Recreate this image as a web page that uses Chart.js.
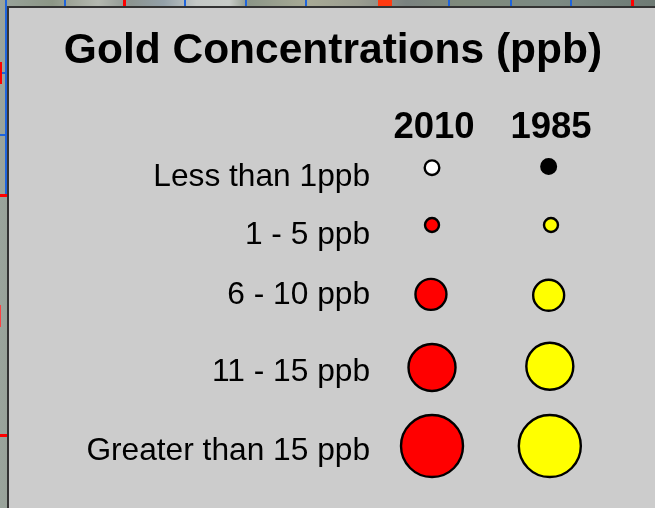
<!DOCTYPE html>
<html>
<head>
<meta charset="utf-8">
<title>Gold Concentrations (ppb)</title>
<script src="https://cdn.jsdelivr.net/npm/chart.js@4"></script>
<style>
    html, body { margin: 0; padding: 0; width: 655px; height: 508px; overflow: hidden; }
    /* map peeking out behind the legend box */
    #map { position: absolute; left: 0; top: 0; width: 655px; height: 508px;
        background: linear-gradient(90deg, #9aa49c 0, #8c9686 8%, #a0a69a 11%, #b4b8b0 15%, #8c9490 20%, #93a0a8 25%, #c4c8c6 30%, #c8ccc8 35%, #8c9688 38%, #a8aa96 47%, #9a9c90 55%, #7a8280 62%, #7f8a7c 70%, #7c8a84 85%, #6e7a74 100%); }
    #map i { position: absolute; display: block; }
    #panel { position: absolute; left: 7px; top: 6px; width: 660px; height: 520px;
        background: #cccccc; border: 2px solid #333333; }
    canvas { position: absolute; left: 0; top: 0; }
</style>
</head>
<body>
<div id="map"></div>
<div id="panel"></div>
<canvas id="legendChart" width="655" height="508"></canvas>
<script>
const gradeLabels = ['Less than 1ppb', '1 - 5 ppb', '6 - 10 ppb', '11 - 15 ppb', 'Greater than 15 ppb'];
const years = ['2010', '1985'];
const yearTicks = [0, 1];
const gradeTicks = [0.153, 1.15, 2.18, 3.5, 4.86];

// marker column and row
const column2010 = [-0.017, -0.017, -0.026, -0.017, -0.017];
const column1985 = [0.98, 1, 0.98, 0.99, 0.99];
const rows2010 = [-0.007, 0.976, 2.164, 3.416, 4.763];
const rows1985 = [-0.027, 0.976, 2.18, 3.396, 4.763];
const markerRadius = [7.3, 7, 15.5, 23.5, 31];

const colors2010 = ['#ffffff', '#ff0000', '#ff0000', '#ff0000', '#ff0000'];
const colors1985 = ['#000000', '#ffff00', '#ffff00', '#ffff00', '#ffff00'];

const fontName = '"Liberation Sans", Arial, sans-serif';

function toPoints(xs, ys) {
    return xs.map((x, i) => ({ x: x, y: ys[i], r: markerRadius[i] }));
}

// the strip of map around the box: blue grid lines and red ticks
const mapEl = document.getElementById('map');
function addLine(left, top, width, height, color) {
    const line = document.createElement('i');
    line.style.cssText = `left:${left}px;top:${top}px;width:${width}px;height:${height}px;background:${color}`;
    mapEl.appendChild(line);
}
[65, 185, 246, 306, 449, 511, 571].forEach(x => addLine(x - 1, 0, 2, 6, '#1e64dc'));
[124, 632].forEach(x => addLine(x - 1, 0, 3, 6, '#ff0000'));
addLine(378, 0, 14, 6, '#ff3a10');
addLine(5, 0, 2, 195, '#1e64dc');
addLine(0, 72, 7, 2, '#1e64dc');
addLine(0, 134, 7, 2, '#1e64dc');
addLine(0, 62, 2, 22, '#ff0000');
addLine(0, 194, 7, 3, '#ff0000');
addLine(0, 305, 1, 22, '#ff4040');
addLine(0, 434, 7, 3, '#ff0000');

new Chart(document.getElementById('legendChart'), {
    type: 'bubble',
    data: {
        datasets: [
            {
                label: years[0],
                data: toPoints(column2010, rows2010),
                backgroundColor: colors2010,
                borderColor: '#000000',
                borderWidth: 2.4,
                hoverBorderWidth: 2.4
            },
            {
                label: years[1],
                data: toPoints(column1985, rows1985),
                backgroundColor: colors1985,
                borderColor: '#000000',
                borderWidth: 2.4,
                hoverBorderWidth: 2.4
            }
        ]
    },
    options: {
        responsive: false,
        animation: false,
        layout: { autoPadding: false, padding: { left: 11 } },
        plugins: {
            legend: { display: false },
            tooltip: { enabled: false },
            title: {
                display: true,
                text: 'Gold Concentrations (ppb)',
                color: '#000000',
                font: { family: fontName, size: 42.5, weight: 'bold' },
                padding: { top: 26, bottom: 27 }
            }
        },
        scales: {
            x: {
                position: 'top',
                min: -0.4615,
                max: 1.889,
                afterBuildTicks: scale => { scale.ticks = yearTicks.map(v => ({ value: v })); },
                afterFit: scale => { scale.height = 48; },
                grid: { display: false },
                border: { display: false },
                ticks: {
                    autoSkip: false,
                    maxRotation: 0,
                    padding: -6,
                    color: '#000000',
                    font: { family: fontName, size: 36.5, weight: 'bold' },
                    callback: (value, index) => years[index]
                }
            },
            y: {
                reverse: true,
                min: -0.275,
                max: 5.464,
                afterBuildTicks: scale => { scale.ticks = gradeTicks.map(v => ({ value: v })); },
                afterFit: scale => { scale.width = 369; },
                grid: { display: false },
                border: { display: false },
                ticks: {
                    autoSkip: false,
                    padding: 2,
                    color: '#000000',
                    font: { family: fontName, size: 31.7 },
                    callback: (value, index) => gradeLabels[index]
                }
            }
        }
    }
});
</script>
</body>
</html>
